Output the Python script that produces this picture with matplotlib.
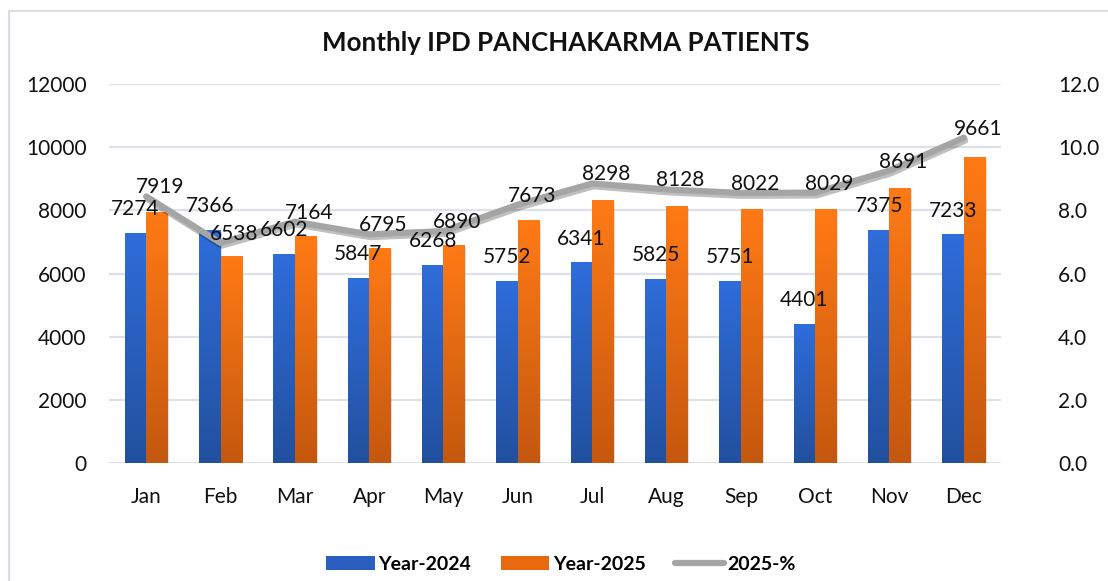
import numpy as np
import matplotlib.pyplot as plt
import matplotlib.patheffects as pe
from matplotlib.colors import LinearSegmentedColormap
from matplotlib.patches import Patch, Rectangle
from matplotlib.lines import Line2D

months = ['Jan', 'Feb', 'Mar', 'Apr', 'May', 'Jun', 'Jul', 'Aug', 'Sep', 'Oct', 'Nov', 'Dec']
year_2024 = [7274, 7366, 6602, 5847, 6268, 5752, 6341, 5825, 5751, 4401, 7375, 7233]
year_2025 = [7919, 6538, 7164, 6795, 6890, 7673, 8298, 8128, 8022, 8029, 8691, 9661]
pct_2025 = [8.44, 6.97, 7.64, 7.24, 7.34, 8.18, 8.85, 8.66, 8.55, 8.56, 9.26, 10.30]

plt.rcParams['font.family'] = ['Lato', 'DejaVu Sans']

fig = plt.figure(figsize=(11.08, 5.81), dpi=100)
# outer chart border
fig.patches.append(Rectangle((9 / 1108, -0.05), 1.1, 1 - 11 / 581 + 0.05, transform=fig.transFigure,
                             fill=False, edgecolor='#D9DDE5', linewidth=1.5))

ax = fig.add_axes([109 / 1108, 1 - 463 / 581, 892 / 1108, 379 / 581])
ax2 = ax.twinx()

x = np.arange(len(months))
w = 0.29
blue_cmap = LinearSegmentedColormap.from_list('b', ['#22509E', '#2F6DDA'])
orange_cmap = LinearSegmentedColormap.from_list('o', ['#C4580F', '#FF7A15'])
grad = np.linspace(0, 1, 256).reshape(-1, 1)

def grad_bars(xs, vals, cmap):
    bars = ax.bar(xs, vals, w, color='none', zorder=2)
    for b in bars:
        x0, h = b.get_x(), b.get_height()
        # soft shadow
        ax.add_patch(Rectangle((x0 + 0.015, -60), w, h, color='#000000', alpha=0.12, lw=0, zorder=1.5))
        ax.imshow(grad, cmap=cmap, aspect='auto', origin='lower',
                  extent=[x0, x0 + w, 0, h], zorder=2)
    return bars

grad_bars(x - w / 2, year_2024, blue_cmap)
grad_bars(x + w / 2, year_2025, orange_cmap)

ax.set_xlim(-0.5, len(months) - 0.5)
ax.set_ylim(0, 12000)
ax.set_yticks(range(0, 12001, 2000))
ax.set_xticks(x)
ax.set_xticklabels(months)
ax.grid(axis='y', color='#DDE1E8', linewidth=1.6, zorder=0)
ax.set_axisbelow(True)
ax.tick_params(axis='both', length=0, labelsize=15, colors='#111111')
ax.tick_params(axis='y', pad=16)
ax.tick_params(axis='x', pad=17)
for s in ax.spines.values():
    s.set_visible(False)

ax2.plot(x, pct_2025, color='#A5A5A5', linewidth=4.5, solid_capstyle='round', zorder=4,
         path_effects=[pe.SimpleLineShadow(offset=(1, -2), alpha=0.25), pe.Normal()])
for xi, p, v in zip(x, pct_2025, year_2025):
    ax2.annotate(str(v), (xi, p), xytext=(14, 3), textcoords='offset pixels',
                 ha='center', va='baseline', fontsize=15, color='#111111', zorder=6)
# 2024 labels drawn on top of the line
for xi, v in zip(x - w / 2, year_2024):
    ax2.annotate(str(v), (xi, v), xycoords=ax.transData, xytext=(0, 18), textcoords='offset pixels',
                 ha='center', va='baseline', fontsize=15, color='#111111', zorder=6)
ax2.set_ylim(0, 12)
ax2.set_yticks(np.arange(0, 12.1, 2))
ax2.set_yticklabels([f'{t:.1f}' for t in np.arange(0, 12.1, 2)])
ax2.tick_params(axis='y', length=0, labelsize=15, colors='#111111', pad=41)
for s in ax2.spines.values():
    s.set_visible(False)

fig.text(566 / 1108, 1 - 43 / 581, 'Monthly IPD PANCHAKARMA PATIENTS', ha='center', va='center',
         fontsize=18.6, fontweight='bold', color='#111111')

handles = [Patch(facecolor='#2A5EC0', edgecolor='none'),
           Patch(facecolor='#E8690F', edgecolor='none'),
           Line2D([0], [0], color='#A5A5A5', linewidth=4.5, solid_capstyle='round')]
fig.legend(handles, ['Year-2024', 'Year-2025', '2025-%'], loc='center',
           bbox_to_anchor=(561 / 1108, 1 - 564 / 581), ncol=3, frameon=False,
           prop={'size': 14, 'weight': 'bold'}, handlelength=2.5, handleheight=0.75,
           columnspacing=1.5, handletextpad=0.2)

fig.savefig('out.png', dpi=100)
